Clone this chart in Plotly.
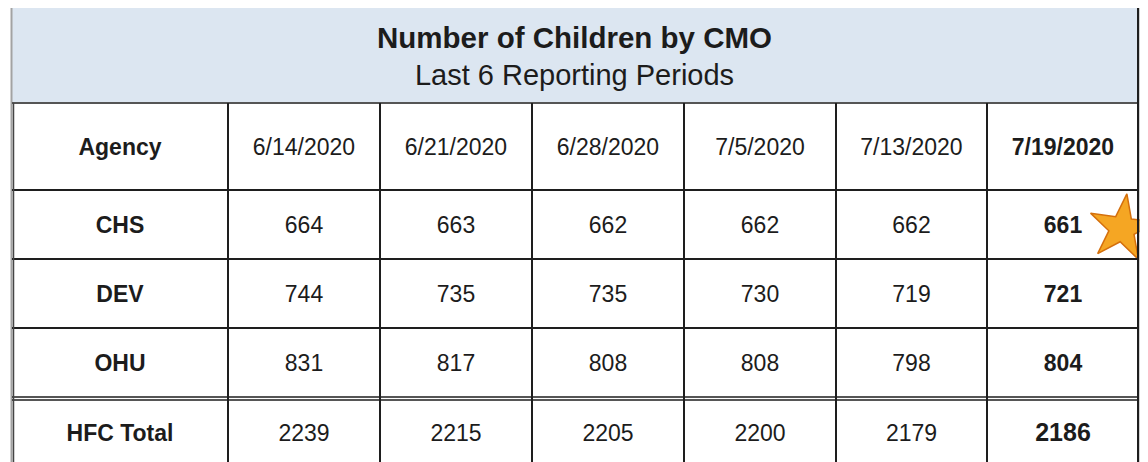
import plotly.graph_objects as go

# ---------------- data ----------------
title = "Number of Children by CMO"
subtitle = "Last 6 Reporting Periods"
header_label = "Agency"
periods = ["6/14/2020", "6/21/2020", "6/28/2020", "7/5/2020", "7/13/2020", "7/19/2020"]
agencies = ["CHS", "DEV", "OHU"]
chs_values = [664, 663, 662, 662, 662, 661]
dev_values = [744, 735, 735, 730, 719, 721]
ohu_values = [831, 817, 808, 808, 798, 804]
total_label = "HFC Total"
hfc_total = [2239, 2215, 2205, 2200, 2179, 2186]

# ---------------- layout geometry (screen-pixel units on the axes) ----------------
W, H = 1148, 462
PAGE_MARGIN = 8          # default body margin of the html page
col_edges = [12, 228, 380, 532, 684, 836, 987, 1139]
band_top, band_bottom = 5, 103
row_edges = [103, 190, 259, 328, 397]   # header row + 3 agency rows
total_top, total_bottom = 400, 466
TEXT_DY = 3              # baseline nudge so text sits like the reference

TEXT = "#1c1c1c"
GRID = "#1e1e1e"
FRAME = "#a3a3a3"
BAND = "#dce6f1"
FONT = "Liberation Sans, Arial, sans-serif"

col_centers = [(a + b) / 2 for a, b in zip(col_edges[:-1], col_edges[1:])]
row_centers = [(a + b) / 2 + TEXT_DY for a, b in zip(row_edges[:-1], row_edges[1:])]
total_center = (total_top + total_bottom) / 2 + TEXT_DY - 1

xs, ys, texts, sizes = [], [], [], []

def add(x, y, t, s=23):
    xs.append(x); ys.append(y); texts.append(t); sizes.append(s)

# header row
hy = row_centers[0]
add(col_centers[0], hy, f"<b>{header_label}</b>")
for i, p in enumerate(periods):
    last = i == len(periods) - 1
    add(col_centers[i + 1], hy, f"<b>{p}</b>" if last else p)

# agency rows
body = [chs_values, dev_values, ohu_values]
for r, (name, vals) in enumerate(zip(agencies, body)):
    y = row_centers[r + 1]
    add(col_centers[0], y, f"<b>{name}</b>")
    for i, v in enumerate(vals):
        last = i == len(vals) - 1
        add(col_centers[i + 1], y, f"<b>{v}</b>" if last else str(v))

# total row
add(col_centers[0], total_center, f"<b>{total_label}</b>")
for i, v in enumerate(hfc_total):
    last = i == len(hfc_total) - 1
    add(col_centers[i + 1], total_center, f"<b>{v}</b>" if last else str(v), 25 if last else 23)

fig = go.Figure()

# title band
fig.add_shape(type="rect", xref="x", yref="y", x0=col_edges[0], x1=col_edges[-1],
              y0=band_top, y1=band_bottom, fillcolor=BAND, line=dict(width=0), layer="below")

# outer frame (gray)
fig.add_shape(type="rect", xref="x", yref="y", x0=col_edges[0] - 0.5, x1=col_edges[-1] + 1.5,
              y0=band_top, y1=H + 10, line=dict(color=FRAME, width=2), fillcolor="rgba(0,0,0,0)")

# band bottom rule
fig.add_shape(type="line", xref="x", yref="y", x0=col_edges[0], x1=col_edges[-1],
              y0=band_bottom, y1=band_bottom, line=dict(color="#555555", width=2))

# horizontal rules
for y in row_edges[1:-1]:
    fig.add_shape(type="line", xref="x", yref="y", x0=col_edges[0], x1=col_edges[-1],
                  y0=y, y1=y, line=dict(color=GRID, width=2))
fig.add_shape(type="line", xref="x", yref="y", x0=col_edges[0], x1=col_edges[-1],
              y0=row_edges[-1], y1=row_edges[-1], line=dict(color=GRID, width=1.6))
fig.add_shape(type="line", xref="x", yref="y", x0=col_edges[0], x1=col_edges[-1],
              y0=total_top, y1=total_top, line=dict(color=GRID, width=1.6))

# vertical rules
for x in col_edges[1:-1]:
    fig.add_shape(type="line", xref="x", yref="y", x0=x, x1=x,
                  y0=band_bottom, y1=H + 10, line=dict(color=GRID, width=2))
fig.add_shape(type="line", xref="x", yref="y", x0=col_edges[0] + 1.5, x1=col_edges[0] + 1.5,
              y0=band_bottom, y1=H + 10, line=dict(color="#444444", width=1.5))
fig.add_shape(type="line", xref="x", yref="y", x0=col_edges[-1] - 1, x1=col_edges[-1] - 1,
              y0=band_top + 3, y1=H + 10, line=dict(color=GRID, width=2))

# title text
fig.add_trace(go.Scatter(
    x=[(col_edges[0] + col_edges[-1]) / 2 - 1] * 2, y=[38 + TEXT_DY, 75 + TEXT_DY],
    text=[f"<b>{title}</b>", subtitle], mode="text",
    textfont=dict(family=FONT, size=[29.5, 29], color=TEXT),
    textposition="middle center", hoverinfo="skip", showlegend=False))

# cell text
fig.add_trace(go.Scatter(
    x=xs, y=ys, text=texts, mode="text",
    textfont=dict(family=FONT, size=sizes, color=TEXT),
    textposition="middle center", hoverinfo="skip", showlegend=False))

# star next to the latest CHS value
fig.add_trace(go.Scatter(
    x=[col_centers[-1] + 59], y=[row_centers[1] + 1], mode="markers",
    marker=dict(symbol="star", size=50, color="#F5A623", angle=8,
                line=dict(color="#D46F0C", width=1.5)),
    hoverinfo="skip", showlegend=False))

fig.update_layout(
    width=W - PAGE_MARGIN, height=H - PAGE_MARGIN,
    margin=dict(l=0, r=0, t=0, b=0),
    paper_bgcolor="white", plot_bgcolor="white",
    xaxis=dict(range=[PAGE_MARGIN, W], visible=False, fixedrange=True),
    yaxis=dict(range=[H, PAGE_MARGIN], visible=False, fixedrange=True),
)

fig.write_html("out.html")
